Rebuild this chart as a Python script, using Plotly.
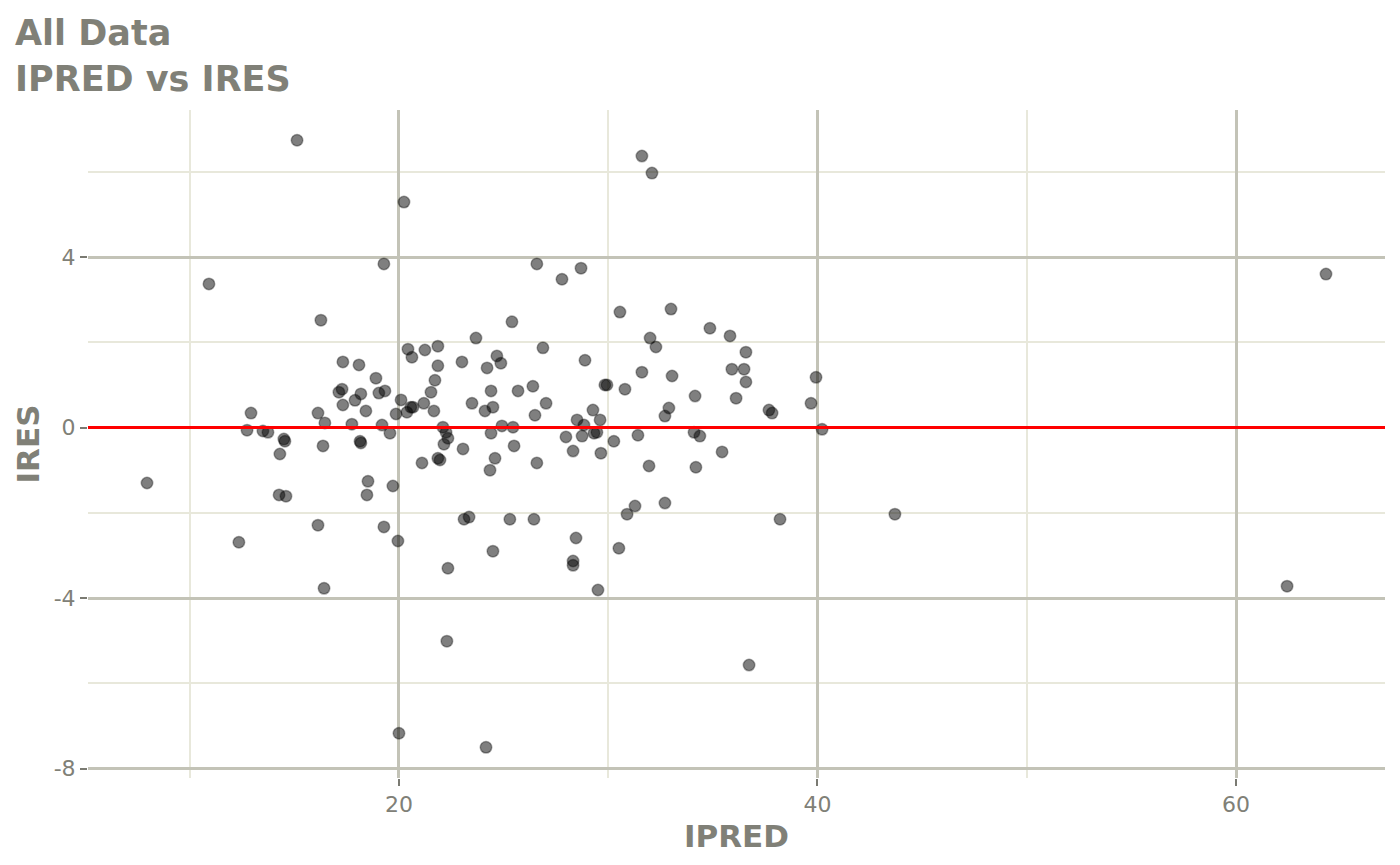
import plotly.graph_objects as go

# IPRED (x) and IRES (y) values
ipred = [
    7.96, 10.92, 12.35, 12.74, 12.93, 13.50, 13.74, 14.27, 14.31, 14.50,
    14.55, 14.60, 15.13, 16.13, 16.13, 16.27, 16.37, 16.42, 16.46, 17.13,
    17.28, 17.32, 17.32, 17.75, 17.90, 18.09, 18.14, 18.18, 18.18, 18.42,
    18.47, 18.52, 18.90, 19.04, 19.19, 19.28, 19.28, 19.33, 19.57, 19.71,
    19.86, 19.95, 20.00, 20.10, 20.24, 20.38, 20.43, 20.57, 20.62, 20.67,
    21.10, 21.19, 21.24, 21.53, 21.67, 21.72, 21.86, 21.86, 21.86, 21.96,
    22.10, 22.15, 22.25, 22.34, 22.29, 22.34, 23.01, 23.06, 23.11, 23.35,
    23.49, 23.68, 24.11, 24.16, 24.21, 24.35, 24.40, 24.40, 24.49, 24.49,
    24.59, 24.68, 24.87, 24.92, 25.30, 25.40, 25.45, 25.50, 25.69, 26.40,
    26.45, 26.50, 26.59, 26.59, 26.88, 27.03, 27.79, 27.98, 28.32, 28.32,
    28.32, 28.46, 28.51, 28.70, 28.75, 28.84, 28.89, 29.27, 29.32, 29.46,
    29.51, 29.61, 29.65, 29.84, 29.94, 30.27, 30.51, 30.56, 30.80, 30.90,
    31.28, 31.42, 31.61, 31.61, 31.95, 32.00, 32.09, 32.28, 32.71, 32.71,
    32.90, 33.00, 33.05, 34.10, 34.15, 34.19, 34.38, 34.86, 35.44, 35.82,
    35.91, 36.11, 36.49, 36.58, 36.58, 36.73, 37.68, 37.83, 38.21, 39.69,
    39.93, 40.22, 43.70, 62.44, 64.30,
]
ires = [
    -1.30, 3.37, -2.69, -0.06, 0.34, -0.08, -0.11, -1.58, -0.62, -0.27,
    -0.32, -1.61, 6.74, 0.34, -2.29, 2.52, -0.43, -3.77, 0.11, 0.83,
    0.90, 1.54, 0.53, 0.08, 0.64, 1.47, -0.32, 0.79, -0.36, 0.39,
    -1.58, -1.26, 1.16, 0.81, 0.06, -2.33, 3.84, 0.86, -0.13, -1.37,
    0.32, -2.66, -7.17, 0.65, 5.29, 0.36, 1.84, 0.48, 1.65, 0.48,
    -0.83, 0.57, 1.82, 0.83, 0.39, 1.11, 1.91, 1.45, -0.72, -0.76,
    0.01, -0.39, -0.11, -0.25, -5.01, -3.30, 1.54, -0.50, -2.15, -2.10,
    0.57, 2.10, 0.39, -7.50, 1.40, -1.00, 0.86, -0.13, -2.90, 0.48,
    -0.72, 1.68, 1.51, 0.04, -2.15, 2.48, 0.01, -0.43, 0.86, 0.97,
    -2.15, 0.29, -0.83, 3.84, 1.87, 0.57, 3.48, -0.22, -0.55, -3.13,
    -3.23, -2.59, 0.18, 3.74, -0.20, 0.06, 1.58, 0.41, -0.13, -0.11,
    -3.81, 0.18, -0.60, 1.00, 1.00, -0.32, -2.83, 2.71, 0.90, -2.03,
    -1.84, -0.18, 1.30, 6.37, -0.90, 2.10, 5.97, 1.89, 0.27, -1.77,
    0.46, 2.78, 1.21, -0.11, 0.74, -0.93, -0.20, 2.33, -0.57, 2.15,
    1.37, 0.69, 1.37, 1.77, 1.07, -5.57, 0.41, 0.34, -2.15, 0.57,
    1.18, -0.04, -2.03, -3.72, 3.60,
]
ref_line = 0

x_tickvals = [20, 40, 60]
x_ticktext = ["20", "40", "60"]
y_tickvals = [-8, -4, 0, 4]
y_ticktext = ["-8", "-4", "0", "4"]

TXT = "#808077"
MAJOR = "#C3C3B7"
MINOR = "#E8E8DB"

fig = go.Figure()

fig.add_trace(go.Scatter(
    x=ipred, y=ires, mode="markers",
    marker=dict(size=11.5, color="rgba(0,0,0,0.5)",
                line=dict(width=1.5, color="rgba(0,0,0,0.35)")),
    showlegend=False,
))

fig.add_hline(y=ref_line, line=dict(color="#FF0000", width=3))

axis_common = dict(
    showline=False, zeroline=False, automargin=False,
    ticks="outside", ticklen=7, tickwidth=2, tickcolor="#7A7A72",
    gridcolor=MAJOR, gridwidth=2.5,
    tickfont=dict(family="DejaVu Sans", size=22, color=TXT),
)

fig.update_layout(
    width=1400, height=865,
    paper_bgcolor="white", plot_bgcolor="white",
    margin=dict(l=80, r=23, t=102, b=95),
    font=dict(family="DejaVu Sans", color=TXT),
    xaxis=dict(
        range=[5.14, 67.12], tickvals=x_tickvals, ticktext=x_ticktext,
        minor=dict(dtick=10, tick0=0, showgrid=True, gridcolor=MINOR, gridwidth=2),
        title=dict(text="<b>IPRED</b>", standoff=8,
                   font=dict(family="DejaVu Sans", size=31, color=TXT)),
        **axis_common,
    ),
    yaxis=dict(
        range=[-8.22, 7.45], tickvals=y_tickvals, ticktext=y_ticktext,
        minor=dict(dtick=2, tick0=0, showgrid=True, gridcolor=MINOR, gridwidth=2),
        title=dict(text="<b>IRES</b>", standoff=4,
                   font=dict(family="DejaVu Sans", size=31, color=TXT)),
        **axis_common,
    ),
    annotations=[dict(
        text="<b>All Data<br>IPRED vs IRES</b>",
        xref="paper", yref="paper", x=-0.058, y=1.1485,
        xanchor="left", yanchor="top", align="left", showarrow=False,
        font=dict(family="DejaVu Sans", size=35, color=TXT),
    )],
)

fig.write_html("out.html")
